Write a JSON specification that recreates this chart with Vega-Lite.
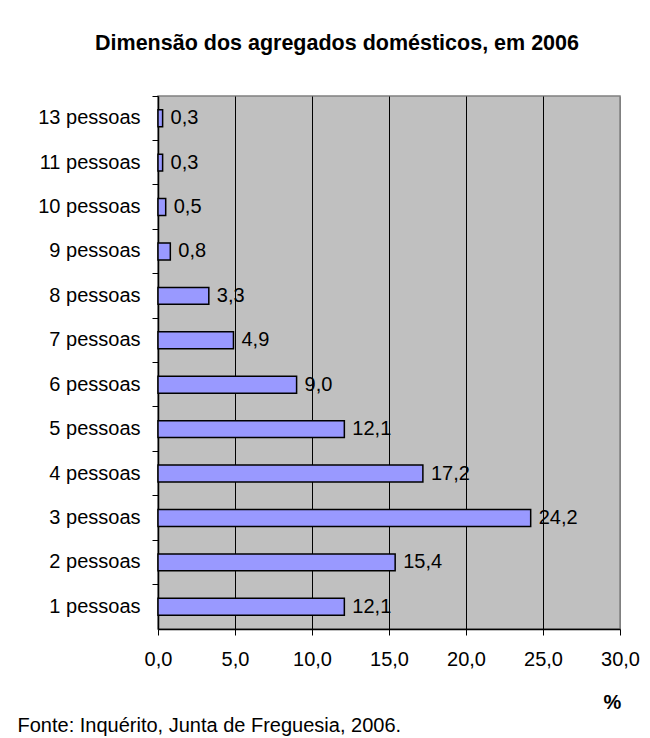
{
  "$schema": "https://vega.github.io/schema/vega-lite/v6.json",
  "width": 462,
  "height": 533,
  "autosize": {"type": "none"},
  "padding": {"left": 158, "top": 96, "right": 30, "bottom": 109},
  "background": "white",
  "config": {
    "locale": {"number": {"decimal": ",", "thousands": ".", "grouping": [3], "currency": ["", " €"]}},
    "font": "Liberation Sans",
    "view": {"fill": "#C0C0C0", "stroke": "#808080", "strokeWidth": 1.5}
  },
  "title": {
    "text": "Dimensão dos agregados domésticos, em 2006",
    "font": "Liberation Sans",
    "fontSize": 21.5,
    "fontWeight": "bold",
    "color": "black",
    "anchor": "middle",
    "frame": "group",
    "baseline": "middle",
    "offset": 30,
    "dx": -52
  },
  "data": {
    "values": [
      {"cat": "13 pessoas", "pct": 0.3},
      {"cat": "11 pessoas", "pct": 0.3},
      {"cat": "10 pessoas", "pct": 0.5},
      {"cat": "9 pessoas", "pct": 0.8},
      {"cat": "8 pessoas", "pct": 3.3},
      {"cat": "7 pessoas", "pct": 4.9},
      {"cat": "6 pessoas", "pct": 9.0},
      {"cat": "5 pessoas", "pct": 12.1},
      {"cat": "4 pessoas", "pct": 17.2},
      {"cat": "3 pessoas", "pct": 24.2},
      {"cat": "2 pessoas", "pct": 15.4},
      {"cat": "1 pessoas", "pct": 12.1}
    ]
  },
  "encoding": {
    "y": {
      "field": "cat",
      "type": "nominal",
      "sort": null,
      "scale": {"paddingInner": 0, "paddingOuter": 0},
      "axis": {
        "title": "Fonte: Inquérito, Junta de Freguesia, 2006.",
        "titleAngle": 0,
        "titleAlign": "left",
        "titleBaseline": "middle",
        "titleX": -141,
        "titleY": 629,
        "titleFont": "Liberation Sans",
        "titleFontSize": 20,
        "titleFontWeight": "normal",
        "titleColor": "black",
        "bandPosition": 0,
        "domainColor": "black",
        "domainWidth": 1.5,
        "tickColor": "black",
        "tickSize": 6,
        "tickWidth": 1,
        "labelFont": "Liberation Sans",
        "labelFontSize": 20,
        "labelColor": "black",
        "labelPadding": 12,
        "grid": false
      }
    },
    "x": {
      "field": "pct",
      "type": "quantitative",
      "scale": {"domain": [0, 30], "nice": false},
      "axis": {
        "values": [0, 5, 10, 15, 20, 25, 30],
        "format": ".1f",
        "title": "%",
        "titleX": 454,
        "titleY": 73,
        "titleAlign": "center",
        "titleBaseline": "middle",
        "titleFont": "Liberation Sans",
        "titleFontSize": 20,
        "titleFontWeight": "bold",
        "titleColor": "black",
        "domainColor": "black",
        "domainWidth": 1.5,
        "tickColor": "black",
        "tickSize": 6,
        "labelFont": "Liberation Sans",
        "labelFontSize": 20,
        "labelColor": "black",
        "labelPadding": 14,
        "labelFlush": false,
        "grid": true,
        "gridColor": {"condition": {"test": "datum.value === 30 || datum.value === 0", "value": "#808080"}, "value": "black"},
        "gridOpacity": 1,
        "gridWidth": 1
      }
    }
  },
  "layer": [
    {
      "mark": {"type": "bar", "height": {"band": 0.38}, "fill": "#9999FF", "stroke": "black", "strokeWidth": 1.5}
    },
    {
      "mark": {"type": "text", "align": "left", "baseline": "middle", "dx": 8, "font": "Liberation Sans", "fontSize": 20, "color": "black"},
      "encoding": {"text": {"field": "pct", "type": "quantitative", "format": ".1f"}}
    }
  ]
}
